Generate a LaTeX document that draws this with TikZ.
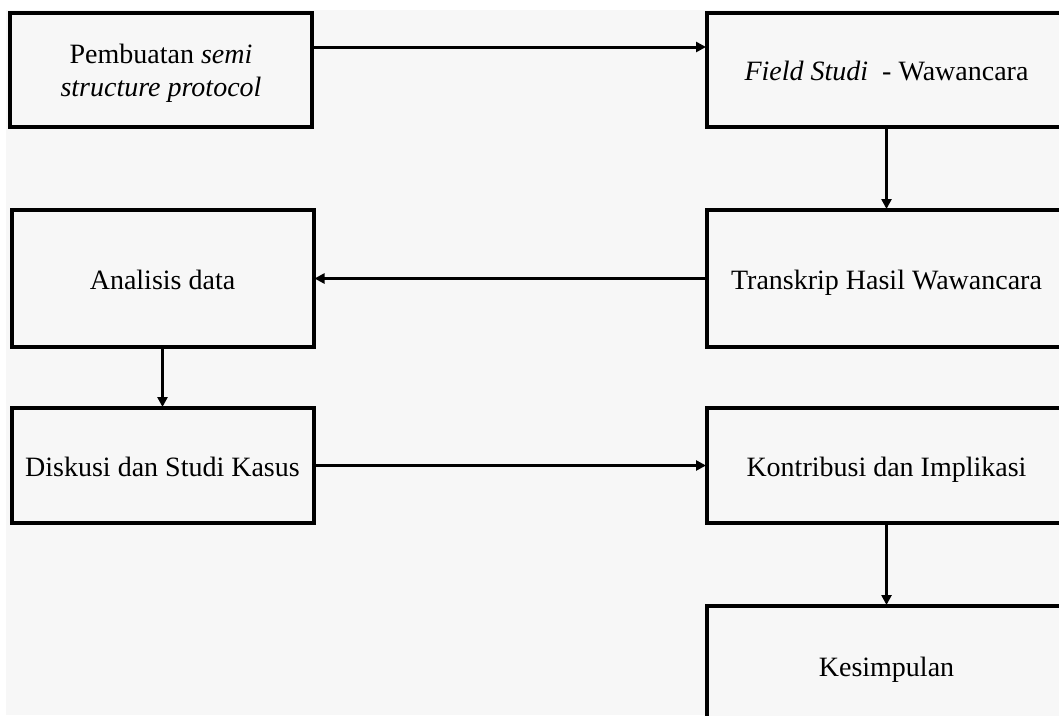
\documentclass[tikz,border=0pt]{standalone}
\usepackage{fontspec}
\setmainfont{Liberation Serif}
\usetikzlibrary{arrows.meta}
\definecolor{bgc}{HTML}{F7F7F7}
\tikzset{
  box/.style={draw=black, line width=4pt, fill=bgc, inner sep=0pt, align=center,
    font=\fontsize{28}{33}\selectfont, text height=26pt, text depth=5pt},
  lbox/.style={box, minimum width=302pt},
  rbox/.style={box, minimum width=359pt},
  txt/.style={inner sep=0pt, align=center, font=\fontsize{28}{33}\selectfont},
  arr/.style={line width=3pt, -{Triangle[length=10pt,width=10pt]}, shorten >=-1pt}
}
\begin{document}
\begin{tikzpicture}[x=1pt,y=-1pt]
\useasboundingbox (0,0) rectangle (1059,715);
\clip (0,0) rectangle (1059,715);
\fill[white] (0,0) rectangle (1059,715);
\fill[bgc] (6,10) rectangle (1059,715);
\node[lbox, minimum height=114pt] (b1) at (161,70) {};
\node[txt] (b1t) at (161,73) {Pembuatan \textit{semi}\\\textit{structure protocol}};
\node[rbox, minimum height=114pt] (b2) at (886.5,70) {\textit{Field Studi}~ - Wawancara};
\node[rbox, minimum height=137pt] (b3) at (886.5,278.5) {Transkrip Hasil Wawancara};
\node[lbox, minimum height=137pt] (b4) at (162.5,278.5) {Analisis data};
\node[lbox, minimum height=115pt] (b5) at (162.5,465.5) {Diskusi dan Studi Kasus};
\node[rbox, minimum height=115pt] (b6) at (886.5,465.5) {Kontribusi dan Implikasi};
\node[rbox, minimum height=119pt] (b7) at (886.5,665.5) {Kesimpulan};
\draw[arr] ([yshift=23pt]b1.east) -- ([yshift=23pt]b2.west);
\draw[arr] (b2.south) -- (b3.north);
\draw[arr] (b3.west) -- (b4.east);
\draw[arr] (b4.south) -- (b5.north);
\draw[arr] (b5.east) -- (b6.west);
\draw[arr] (b6.south) -- (b7.north);
\end{tikzpicture}
\end{document}
